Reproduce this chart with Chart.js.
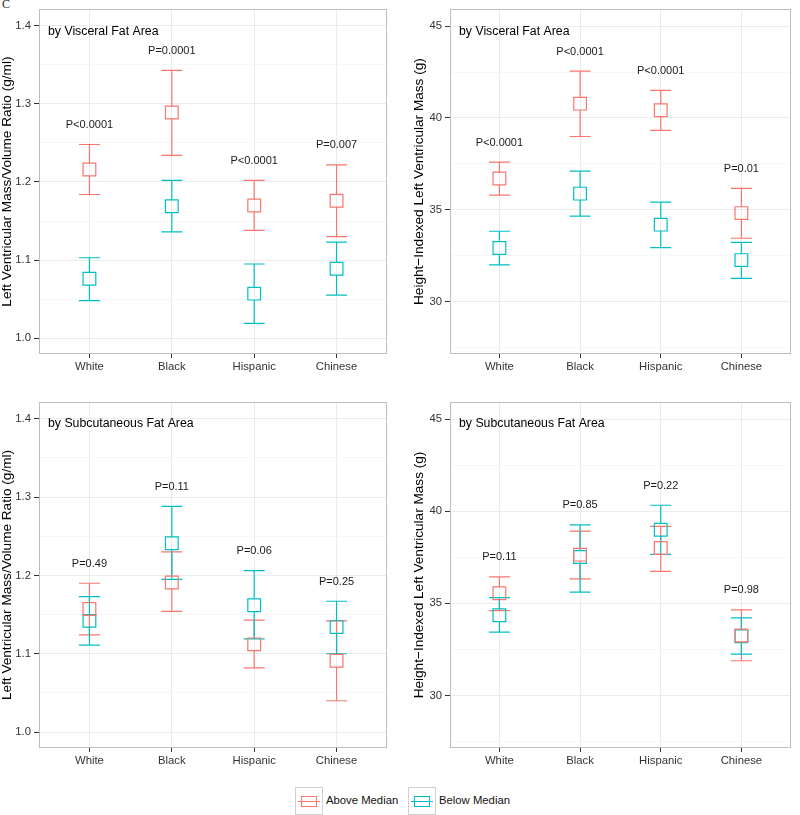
<!DOCTYPE html>
<html>
<head>
<meta charset="utf-8">
<script src="https://cdn.jsdelivr.net/npm/chart.js@4/dist/chart.umd.min.js"></script>
<style>
  body { margin: 0; background: #fff; width: 800px; height: 815px; overflow: hidden; position: relative; font-family: "Liberation Sans", Arial, sans-serif; }
  canvas { position: absolute; }
  #tag { position: absolute; left: 2px; top: -3px; font: 12px "Liberation Serif", serif; color: #222; }
  .legend { position: absolute; top: 787px; font-size: 11.3px; color: #111; }
  .key { position: absolute; width: 26px; height: 26px; border: 1px solid #d0d0d0; background: #fff; }
  .key .sq { position: absolute; left: 5px; top: 8px; width: 14px; height: 9px; border: 1px solid; }
  .key .ln { position: absolute; left: 2px; top: 13px; width: 22px; height: 1px; }
  .legend span.lbl { position: absolute; top: 7px; white-space: nowrap; }
</style>
</head>
<body>
<div id="tag">C</div>
<canvas id="vfaRatio" width="400" height="385" style="left:0;top:0"></canvas>
<canvas id="vfaMass" width="400" height="385" style="left:400px;top:0"></canvas>
<canvas id="sfaRatio" width="400" height="390" style="left:0;top:390px"></canvas>
<canvas id="sfaMass" width="400" height="390" style="left:400px;top:390px"></canvas>

<div class="legend" style="left:295px">
  <div class="key"><div class="sq" style="border-color:#F8766D"></div><div class="ln" style="background:#F8766D"></div></div>
  <span class="lbl" style="left:31px">Above Median</span>
</div>
<div class="legend" style="left:408px">
  <div class="key"><div class="sq" style="border-color:#00BFC4"></div><div class="ln" style="background:#00BFC4"></div></div>
  <span class="lbl" style="left:31px">Below Median</span>
</div>

<script>
const categories = ['White', 'Black', 'Hispanic', 'Chinese'];
const aboveColor = '#F8766D';
const belowColor = '#00BFC4';

// LV mass/volume ratio by visceral fat area
const vfaRatioAbove = [1.216, 1.289, 1.170, 1.176];
const vfaRatioAboveLow = [1.184, 1.234, 1.138, 1.130];
const vfaRatioAboveHigh = [1.248, 1.343, 1.202, 1.222];
const vfaRatioBelow = [1.076, 1.169, 1.057, 1.089];
const vfaRatioBelowLow = [1.048, 1.136, 1.019, 1.055];
const vfaRatioBelowHigh = [1.103, 1.202, 1.095, 1.123];
const vfaRatioP = ['P<0.0001', 'P=0.0001', 'P<0.0001', 'P=0.007'];

// height-indexed LV mass by visceral fat area
const vfaMassAbove = [36.70, 40.78, 40.42, 34.82];
const vfaMassAboveLow = [35.80, 38.99, 39.33, 33.45];
const vfaMassAboveHigh = [37.60, 42.55, 41.50, 36.17];
const vfaMassBelow = [32.92, 35.88, 34.19, 32.26];
const vfaMassBelowLow = [32.00, 34.66, 32.94, 31.26];
const vfaMassBelowHigh = [33.83, 37.11, 35.42, 33.23];
const vfaMassP = ['P<0.0001', 'P<0.0001', 'P<0.0001', 'P=0.01'];

// LV mass/volume ratio by subcutaneous fat area
const sfaRatioAbove = [1.157, 1.191, 1.112, 1.091];
const sfaRatioAboveLow = [1.124, 1.154, 1.082, 1.040];
const sfaRatioAboveHigh = [1.190, 1.230, 1.143, 1.142];
const sfaRatioBelow = [1.142, 1.241, 1.162, 1.134];
const sfaRatioBelowLow = [1.111, 1.195, 1.119, 1.100];
const sfaRatioBelowHigh = [1.173, 1.288, 1.206, 1.167];
const sfaRatioP = ['P=0.49', 'P=0.11', 'P=0.06', 'P=0.25'];

// height-indexed LV mass by subcutaneous fat area
const sfaMassAbove = [35.54, 37.64, 38.00, 33.25];
const sfaMassAboveLow = [34.60, 36.32, 36.73, 31.88];
const sfaMassAboveHigh = [36.43, 38.92, 39.17, 34.64];
const sfaMassBelow = [34.35, 37.51, 38.99, 33.21];
const sfaMassBelowLow = [33.43, 35.61, 37.65, 32.24];
const sfaMassBelowHigh = [35.31, 39.26, 40.32, 34.21];
const sfaMassP = ['P=0.11', 'P=0.85', 'P=0.22', 'P=0.98'];

const ratioTicks = [1.0, 1.1, 1.2, 1.3, 1.4];
const ratioMinorTicks = [1.05, 1.15, 1.25, 1.35];
const massTicks = [30, 35, 40, 45];
const massMinorTicks = [27.5, 32.5, 37.5, 42.5];

const ratioTitle = 'Left Ventricular Mass/Volume Ratio (g/ml)';
const massTitle = 'Height\u2212Indexed Left Ventricular Mass (g)';

const FONT = '"Liberation Sans", Arial, sans-serif';
const SQUARE_R = 9;

function makePanel(id, cfg) {
    const groups = [
        { color: aboveColor, mid: cfg.above, low: cfg.aboveLow, high: cfg.aboveHigh },
        { color: belowColor, mid: cfg.below, low: cfg.belowLow, high: cfg.belowHigh }
    ];
    const isMajor = v => cfg.ticks.some(t => Math.abs(t - v) < 1e-6);

    const panelPlugin = {
        id: 'panelExtras',
        beforeDatasetsDraw(chart) {
            const { ctx, scales: { x, y } } = chart;
            const half = SQUARE_R * Math.SQRT1_2;
            groups.forEach(g => {
                ctx.save();
                ctx.strokeStyle = g.color;
                ctx.lineWidth = 1.2;
                g.mid.forEach((m, i) => {
                    const px = x.getPixelForValue(i);
                    const yHi = y.getPixelForValue(g.high[i]);
                    const yLo = y.getPixelForValue(g.low[i]);
                    const yMid = y.getPixelForValue(m);
                    ctx.beginPath();
                    ctx.moveTo(px, yHi); ctx.lineTo(px, Math.max(yHi, yMid - half));
                    ctx.moveTo(px, Math.min(yLo, yMid + half)); ctx.lineTo(px, yLo);
                    ctx.moveTo(px - 10.5, yHi); ctx.lineTo(px + 10.5, yHi);
                    ctx.moveTo(px - 10.5, yLo); ctx.lineTo(px + 10.5, yLo);
                    ctx.stroke();
                });
                ctx.restore();
            });
        },
        afterDatasetsDraw(chart) {
            const { ctx, chartArea: a, scales: { x, y } } = chart;
            ctx.save();
            ctx.fillStyle = '#1a1a1a';
            ctx.font = '11px ' + FONT;
            ctx.textAlign = 'center';
            ctx.textBaseline = 'middle';
            cfg.pLabels.forEach((p, i) => {
                const top = Math.max(groups[0].high[i], groups[1].high[i]);
                ctx.fillText(p, x.getPixelForValue(i), y.getPixelForValue(top) - 19.5);
            });
            ctx.font = '12.3px ' + FONT;
            ctx.textAlign = 'left';
            ctx.fillStyle = '#000';
            ctx.fillText(cfg.label, a.left + 8, a.top + 21);
            ctx.strokeStyle = '#bdbdbd';
            ctx.lineWidth = 1;
            ctx.strokeRect(Math.round(a.left) - 0.5, Math.round(a.top) - 0.5, Math.round(a.right - a.left) + 1, Math.round(a.bottom - a.top) + 1);
            ctx.restore();
        }
    };

    return new Chart(document.getElementById(id), {
        type: 'scatter',
        data: {
            datasets: groups.map((g, gi) => ({
                label: gi === 0 ? 'Above Median' : 'Below Median',
                data: g.mid.map((v, i) => ({ x: i, y: v })),
                pointStyle: 'rect',
                pointRadius: SQUARE_R,
                pointHoverRadius: SQUARE_R,
                borderColor: g.color,
                backgroundColor: 'rgba(0,0,0,0)',
                pointBorderWidth: 1.2,
                showLine: false
            }))
        },
        options: {
            responsive: false,
            animation: false,
            events: [],
            layout: { padding: cfg.padding },
            plugins: { legend: { display: false }, tooltip: { enabled: false } },
            scales: {
                x: {
                    type: 'linear',
                    min: -0.6,
                    max: 3.6,
                    afterBuildTicks: s => { s.ticks = categories.map((c, i) => ({ value: i })); },
                    afterFit: s => { s.height = cfg.xHeight; },
                    ticks: {
                        callback: v => categories[v],
                        autoSkip: false,
                        maxRotation: 0,
                        padding: 2,
                        color: '#333',
                        font: { family: FONT, size: 11.3 }
                    },
                    grid: { color: '#ebebeb', tickColor: '#333', tickLength: 5 },
                    border: { display: false }
                },
                y: {
                    type: 'linear',
                    min: cfg.min,
                    max: cfg.max,
                    afterBuildTicks: s => {
                        s.ticks = cfg.ticks.concat(cfg.minor).sort((a, b) => a - b).map(v => ({ value: v }));
                    },
                    afterFit: s => { s.width = cfg.yWidth; },
                    ticks: {
                        callback: v => isMajor(v) ? cfg.fmt(v) : '',
                        autoSkip: false,
                        padding: 3,
                        color: '#333',
                        font: { family: FONT, size: 11.3 }
                    },
                    grid: {
                        color: c => isMajor(c.tick.value) ? '#ebebeb' : '#f7f7f7',
                        tickColor: c => isMajor(c.tick.value) ? '#333' : 'rgba(0,0,0,0)',
                        tickLength: 6
                    },
                    border: { display: false },
                    title: {
                        display: true,
                        text: cfg.title,
                        color: '#000',
                        font: { family: FONT, size: 13.6 },
                        padding: { top: cfg.titlePad, bottom: 0 }
                    }
                }
            }
        },
        plugins: [panelPlugin]
    });
}

const ratioFmt = v => v.toFixed(1);
const massFmt = v => String(Math.round(v));

makePanel('vfaRatio', {
    above: vfaRatioAbove, aboveLow: vfaRatioAboveLow, aboveHigh: vfaRatioAboveHigh,
    below: vfaRatioBelow, belowLow: vfaRatioBelowLow, belowHigh: vfaRatioBelowHigh,
    pLabels: vfaRatioP, label: 'by Visceral Fat Area',
    min: 0.981, max: 1.42, ticks: ratioTicks, minor: ratioMinorTicks, fmt: ratioFmt,
    title: ratioTitle, titlePad: -1, yWidth: 40, xHeight: 32,
    padding: { left: 0, top: 8, right: 14, bottom: 0 }
});

makePanel('vfaMass', {
    above: vfaMassAbove, aboveLow: vfaMassAboveLow, aboveHigh: vfaMassAboveHigh,
    below: vfaMassBelow, belowLow: vfaMassBelowLow, belowHigh: vfaMassBelowHigh,
    pLabels: vfaMassP, label: 'by Visceral Fat Area',
    min: 27.2, max: 45.87, ticks: massTicks, minor: massMinorTicks, fmt: massFmt,
    title: massTitle, titlePad: 11, yWidth: 51, xHeight: 32,
    padding: { left: 0, top: 8, right: 1, bottom: 0 }
});

makePanel('sfaRatio', {
    above: sfaRatioAbove, aboveLow: sfaRatioAboveLow, aboveHigh: sfaRatioAboveHigh,
    below: sfaRatioBelow, belowLow: sfaRatioBelowLow, belowHigh: sfaRatioBelowHigh,
    pLabels: sfaRatioP, label: 'by Subcutaneous Fat Area',
    min: 0.981, max: 1.42, ticks: ratioTicks, minor: ratioMinorTicks, fmt: ratioFmt,
    title: ratioTitle, titlePad: -1, yWidth: 40, xHeight: 33,
    padding: { left: 0, top: 13, right: 14, bottom: 0 }
});

makePanel('sfaMass', {
    above: sfaMassAbove, aboveLow: sfaMassAboveLow, aboveHigh: sfaMassAboveHigh,
    below: sfaMassBelow, belowLow: sfaMassBelowLow, belowHigh: sfaMassBelowHigh,
    pLabels: sfaMassP, label: 'by Subcutaneous Fat Area',
    min: 27.2, max: 45.87, ticks: massTicks, minor: massMinorTicks, fmt: massFmt,
    title: massTitle, titlePad: 11, yWidth: 51, xHeight: 33,
    padding: { left: 0, top: 13, right: 1, bottom: 0 }
});
</script>
</body>
</html>
